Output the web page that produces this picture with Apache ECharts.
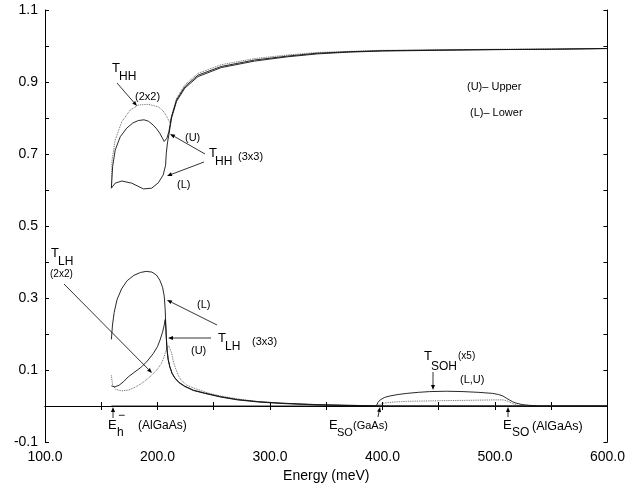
<!DOCTYPE html>
<html>
<head>
<meta charset="utf-8">
<script src="https://cdn.jsdelivr.net/npm/echarts@6/dist/echarts.min.js"></script>
<style>
html,body{margin:0;padding:0;background:#fff;}
#chart{width:628px;height:489px;}
</style>
</head>
<body>
<div id="chart"></div>
<script>
// ---- Data (energy in meV, transmission) ----
const xTicks = [100, 200, 300, 400, 500, 600];
const yTicks = [-0.1, 0.1, 0.3, 0.5, 0.7, 0.9, 1.1];

// T_HH (3x3) upper branch
const eTHHU = [159,160.1,162.4,166.9,172.7,178,183,188,192,196,199.2,202,204.2,206,207.2,208.4,210.1,212.5,216.9,224.3,236,256.6,286.1,315.5,342,370,400,450,500,550,600];
const vTHHU = [0.605,0.665,0.711,0.748,0.772,0.786,0.793,0.795,0.791,0.781,0.77,0.758,0.745,0.735,0.730,0.744,0.762,0.804,0.85,0.887,0.919,0.943,0.961,0.972,0.98,0.984,0.987,0.989,0.990,0.991,0.993];
// T_HH (3x3) lower branch
const eTHHL = [159,162.4,168.3,177.1,187.5,194.8,200.7,205.1,207.2,207.8,209,210.1,212.5,216.9,224.3,236,256.6,286.1,315.5,342,370,400,450,500,550,600];
const vTHHL = [0.605,0.619,0.625,0.619,0.603,0.605,0.62,0.642,0.669,0.702,0.734,0.753,0.8,0.846,0.883,0.915,0.94,0.958,0.97,0.978,0.983,0.986,0.988,0.990,0.991,0.993];
// T_HH (2x2)
const eTHH2 = [159,159.6,162.4,168.3,175.7,183,191.9,200.7,205,208,211,213,217,224.3,236,256.6,286.1,315.5,342,370,400,450,500,550,600];
const vTHH2 = [0.61,0.683,0.739,0.79,0.822,0.836,0.838,0.831,0.82,0.805,0.787,0.81,0.855,0.892,0.924,0.948,0.965,0.975,0.982,0.985,0.988,0.989,0.991,0.992,0.993];

// T_LH (3x3) lower branch
const eLHL = [159,160,161.5,164,168,173,179,185,190,195,199,202,204.5,206,206.8,207.3,207.8,208.5,209.5,211,213,215.5,219,224.3,232,242,256,271,290,310,340,370,400,600];
const vLHL = [0.185,0.225,0.26,0.295,0.325,0.348,0.363,0.371,0.374,0.372,0.364,0.35,0.33,0.305,0.27,0.23,0.19,0.155,0.128,0.108,0.09,0.077,0.065,0.054,0.043,0.035,0.025,0.017,0.011,0.007,0.003,0.001,0,0];
// T_LH (3x3) upper branch
const eLHU = [159,162,166,170,174,180,186,191,196.3,200,202.2,204.5,206,206.8,207.3,207.8,208.5,209.5,211,213,215.5,219,224.3,232,242,256,271,290,310,340,370,400,600];
const vLHU = [0.056,0.053,0.058,0.068,0.081,0.095,0.109,0.125,0.146,0.165,0.183,0.205,0.225,0.24,0.225,0.195,0.158,0.13,0.109,0.091,0.078,0.066,0.055,0.044,0.036,0.026,0.018,0.012,0.008,0.004,0.002,0,0];
// T_LH (2x2)
const eLH2 = [159,160,163,168,174,180,186,191,196,200,203.6,206,208,210,212.5,214,216,218.5,221,226,233,245,257,275,290,315,340,370,400,600];
const vLH2 = [0.085,0.06,0.046,0.042,0.044,0.052,0.063,0.075,0.089,0.103,0.119,0.138,0.158,0.167,0.148,0.125,0.105,0.085,0.072,0.058,0.049,0.036,0.027,0.018,0.012,0.007,0.004,0.002,0,0];

// T_SOH (x5), 3x3 (L,U)
const eSOH = [159,394.5,396,398,402,406.8,414,421.6,432,442,457,471.6,485,498,503,506.9,510,512.8,515.5,518.7,524,530,540,600];
const vSOH = [0,0,0.01,0.017,0.024,0.028,0.032,0.035,0.038,0.04,0.041,0.04,0.038,0.035,0.032,0.028,0.022,0.017,0.012,0.008,0.004,0.002,0,0];
// T_SOH (x5), 2x2
const eSOH2 = [394.5,401,410,421.6,440,457,480,501,507,510,513,516,520,525];
const vSOH2 = [0,0.008,0.011,0.013,0.014,0.015,0.016,0.017,0.017,0.015,0.011,0.006,0.002,0];

function zip(a, b) { return a.map((x, i) => [x, b[i]]); }

const chart = echarts.init(document.getElementById('chart'), null, {renderer: 'canvas'});

const FONT = 'Liberation Sans, Arial, Helvetica, sans-serif';
const solid = {color: '#111', width: 0.9, type: 'solid'};
const dotted = {color: '#555', width: 0.9, type: 'dotted'};

function mkSeries(name, e, v, style) {
  return {
    name: name, type: 'line', data: zip(e, v), showSymbol: false, symbol: 'none',
    lineStyle: style, itemStyle: {color: style.color}, animation: false, z: 3
  };
}

// annotation helpers (pixel positions)
function txt(x, y, s, size) {
  return {type: 'text', x: x, y: y, z: 10, style: {text: s, font: size + 'px ' + FONT, fill: '#000', align: 'left', verticalAlign: 'top'}};
}
function arrow(x1, y1, x2, y2) {
  const ang = Math.atan2(y2 - y1, x2 - x1), L = 5, W = 2;
  const bx = x2 - L * Math.cos(ang), by = y2 - L * Math.sin(ang);
  const px = -Math.sin(ang) * W, py = Math.cos(ang) * W;
  return [
    {type: 'line', z: 10, shape: {x1: x1, y1: y1, x2: bx, y2: by}, style: {stroke: '#000', lineWidth: 0.8}},
    {type: 'polygon', z: 10, shape: {points: [[x2, y2], [bx + px, by + py], [bx - px, by - py]]}, style: {fill: '#000'}}
  ];
}

const graphics = [].concat(
  // T_HH (2x2)
  [txt(112, 62, 'T', 13), txt(119, 71, 'HH', 12), txt(135, 91, '(2x2)', 11)],
  arrow(117, 83, 137, 106),
  // T_HH (3x3)
  [txt(185, 132, '(U)', 11), txt(209, 147, 'T', 13), txt(215, 156, 'HH', 12), txt(238, 151, '(3x3)', 11), txt(177, 179, '(L)', 11)],
  arrow(205, 154, 170, 134), arrow(204, 162, 167, 176),
  // legend-like notes
  [txt(467, 81, '(U)\u2013 Upper', 11), txt(470, 107, '(L)\u2013 Lower', 11)],
  // T_LH (2x2)
  [txt(51, 247, 'T', 13), txt(58, 256, 'LH', 12), txt(50, 269, '(2x2)', 10)],
  arrow(64, 284, 152, 373),
  // T_LH (3x3)
  [txt(197, 299, '(L)', 11), txt(218, 332, 'T', 13), txt(225, 341, 'LH', 12), txt(252, 336, '(3x3)', 11), txt(191, 345, '(U)', 11)],
  arrow(217, 325, 167, 300), arrow(211, 338, 168, 338),
  // T_SOH
  [txt(424, 350, 'T', 13), txt(431, 361, 'SOH', 12), txt(458, 351, '(x5)', 10), txt(460, 374, '(L,U)', 11)],
  arrow(433, 372, 433, 390),
  // E labels
  [txt(108, 419, 'E', 13), txt(117, 427, 'h', 12), txt(118, 410, '\u2212', 12), txt(138, 420, '(AlGaAs)', 12)],
  arrow(113, 418, 113, 407),
  [txt(329, 419, 'E', 13), txt(337, 427, 'SO', 11), txt(353, 420, '(GaAs)', 11)],
  arrow(378, 417, 380, 407),
  [txt(503, 419, 'E', 13), txt(512, 427, 'SO', 12), txt(532, 420, '(AlGaAs)', 12.5)],
  arrow(508, 417, 508, 407)
);

const axisLineStyle = {lineStyle: {color: '#000', width: 1}};
const option = {
  backgroundColor: '#fff',
  animation: false,
  grid: {left: 45, right: 16, top: 10, bottom: 47, containLabel: false},
  xAxis: [
    {
      type: 'value', min: 100, max: 600, interval: 50, position: 'bottom',
      name: 'Energy (meV)', nameLocation: 'middle', nameGap: 26,
      nameTextStyle: {fontFamily: FONT, fontSize: 14, color: '#000'},
      axisLine: axisLineStyle,
      axisTick: {inside: true, length: 4, lineStyle: {color: '#000'}},
      axisLabel: {
        fontFamily: FONT, fontSize: 14, color: '#000', margin: 8, showMinLabel: true, showMaxLabel: true,
        formatter: function (v) { return xTicks.indexOf(Math.round(v)) >= 0 ? Number(v).toFixed(1) : ''; }
      },
      splitLine: {show: false}
    },
    {
      type: 'value', min: 100, max: 600, interval: 50, position: 'top',
      axisLine: axisLineStyle,
      axisTick: {inside: true, length: 4, lineStyle: {color: '#000'}},
      axisLabel: {show: false}, splitLine: {show: false}
    }
  ],
  yAxis: [
    {
      type: 'value', min: -0.1, max: 1.1, interval: 0.1, position: 'left',
      axisLine: axisLineStyle,
      axisTick: {inside: true, length: 4, lineStyle: {color: '#000'}},
      axisLabel: {
        fontFamily: FONT, fontSize: 14, color: '#000', margin: 7, showMinLabel: true, showMaxLabel: true,
        formatter: function (v) {
          const k = Math.round(v * 10);
          return yTicks.some(t => Math.round(t * 10) === k) ? (k / 10).toFixed(1) : '';
        }
      },
      splitLine: {show: false}
    },
    {
      type: 'value', min: -0.1, max: 1.1, interval: 0.1, position: 'right',
      axisLine: axisLineStyle,
      axisTick: {inside: true, length: 4, lineStyle: {color: '#000'}},
      axisLabel: {show: false}, splitLine: {show: false}
    }
  ],
  series: [
    mkSeries('T_HH 2x2', eTHH2, vTHH2, dotted),
    mkSeries('T_LH 2x2', eLH2, vLH2, dotted),
    mkSeries('T_SOH 2x2', eSOH2, vSOH2, dotted),
    mkSeries('T_HH 3x3 U', eTHHU, vTHHU, solid),
    mkSeries('T_HH 3x3 L', eTHHL, vTHHL, solid),
    mkSeries('T_LH 3x3 L', eLHL, vLHL, solid),
    mkSeries('T_LH 3x3 U', eLHU, vLHU, solid),
    mkSeries('T_SOH 3x3', eSOH, vSOH, solid)
  ],
  graphic: graphics
};
chart.setOption(option);
</script>
</body>
</html>
